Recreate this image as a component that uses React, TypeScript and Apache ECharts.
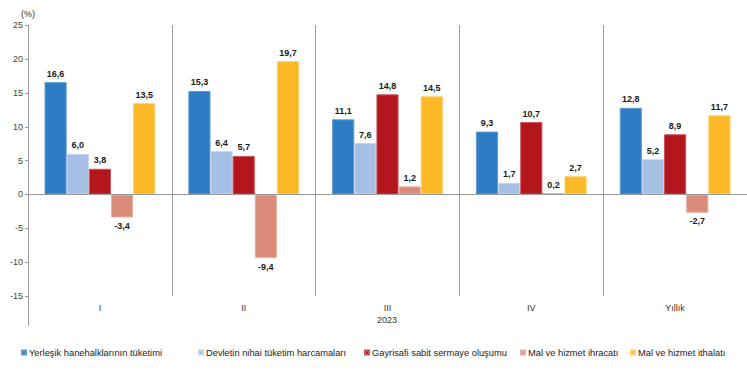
import React, { useEffect, useRef } from "react";
import * as echarts from "echarts";

const categories = ["I", "II", "III", "IV", "Yıllık"];
const seriesNames = [
  "Yerleşik hanehalklarının tüketimi",
  "Devletin nihai tüketim harcamaları",
  "Gayrisafi sabit sermaye oluşumu",
  "Mal ve hizmet ihracatı",
  "Mal ve hizmet ithalatı",
];
const householdValues = [16.6, 15.3, 11.1, 9.3, 12.8];
const governmentValues = [6.0, 6.4, 7.6, 1.7, 5.2];
const investmentValues = [3.8, 5.7, 14.8, 10.7, 8.9];
const exportValues = [-3.4, -9.4, 1.2, 0.2, -2.7];
const importValues = [13.5, 19.7, 14.5, 2.7, 11.7];
const yearLabel = "2023";

const colors = ["#2E7DC4", "#A6BFE5", "#B3161C", "#DA8B79", "#FBB927"];
const borderColors = ["#5E9AD2", "#C3D4EE", "#C8555A", "#E6AFA2", "#FCCF6B"];
const legendLefts = [16, 193, 359, 515, 625];

export default function App() {
  const ref = useRef<HTMLDivElement>(null);
  useEffect(() => {
    if (!ref.current) return;
    const chart = echarts.init(ref.current, null, { renderer: "svg" });
    const allValues = [householdValues, governmentValues, investmentValues, exportValues, importValues];
    const font = "Liberation Sans, Arial, sans-serif";
    const series: any[] = allValues.map((vals, i) => ({
      name: seriesNames[i],
      type: "bar",
      data: vals.map((v) => ({
        value: v,
        label: { position: v < 0 ? "bottom" : "top" },
      })),
      barGap: "0%",
      barCategoryGap: "23%",
      itemStyle: { color: colors[i], borderColor: borderColors[i], borderWidth: 1 },
      label: {
        show: true,
        distance: 4,
        color: "#1a1a1a",
        fontSize: 9,
        fontWeight: "bold",
        fontFamily: font,
        formatter: (p: any) => Number(p.value).toFixed(1).replace(".", ","),
      },
      markLine:
        i === 0
          ? {
              silent: true,
              symbol: "none",
              label: { show: false },
              lineStyle: { color: "#9a9a9a", type: "solid", width: 1 },
              data: [{ yAxis: 0 }],
            }
          : undefined,
    }));
    const legends = seriesNames.map((n, i) => ({
      data: [n],
      left: legendLefts[i],
      top: 343,
      icon: "rect",
      itemWidth: 4,
      itemHeight: 4,
      itemGap: 0,
      textStyle: { fontSize: 9.3, color: "#222", fontFamily: font, padding: [0, 0, 0, -2] },
      selectedMode: false,
    }));
    chart.setOption({
      animation: false,
      backgroundColor: "#ffffff",
      grid: { left: 28, right: -1, top: 25.3, bottom: 76, containLabel: false },
      legend: legends,
      xAxis: {
        type: "category",
        data: categories,
        axisLine: { show: false },
        axisTick: { show: false },
        splitLine: { show: true, lineStyle: { color: "#a0a0a0", width: 1 } },
        axisLabel: { color: "#333", fontSize: 9, fontFamily: font, margin: 7 },
      },
      yAxis: {
        type: "value",
        min: -15,
        max: 25,
        interval: 5,
        name: "(%)",
        nameLocation: "end",
        nameGap: 7,
        nameTextStyle: { color: "#333", fontSize: 9, fontFamily: font, align: "center" },
        axisLine: { show: true, lineStyle: { color: "#9a9a9a" } },
        axisTick: { show: true, length: 3, lineStyle: { color: "#9a9a9a" } },
        splitLine: { show: false },
        axisLabel: { color: "#444", fontSize: 9, fontFamily: font, margin: 5 },
      },
      graphic: [
        {
          type: "text",
          x: 387,
          y: 320,
          style: {
            text: yearLabel,
            fill: "#333",
            fontSize: 9,
            fontFamily: font,
            textAlign: "center",
            textVerticalAlign: "middle",
          },
        },
        {
          type: "line",
          shape: { x1: 28.5, y1: 296, x2: 28.5, y2: 326 },
          style: { stroke: "#9a9a9a", lineWidth: 1 },
        },
      ],
      series,
    });
    return () => chart.dispose();
  }, []);
  return (
    <div
      ref={ref}
      style={{ position: "fixed", left: 0, top: 0, width: 747, height: 372, background: "#fff" }}
    />
  );
}
